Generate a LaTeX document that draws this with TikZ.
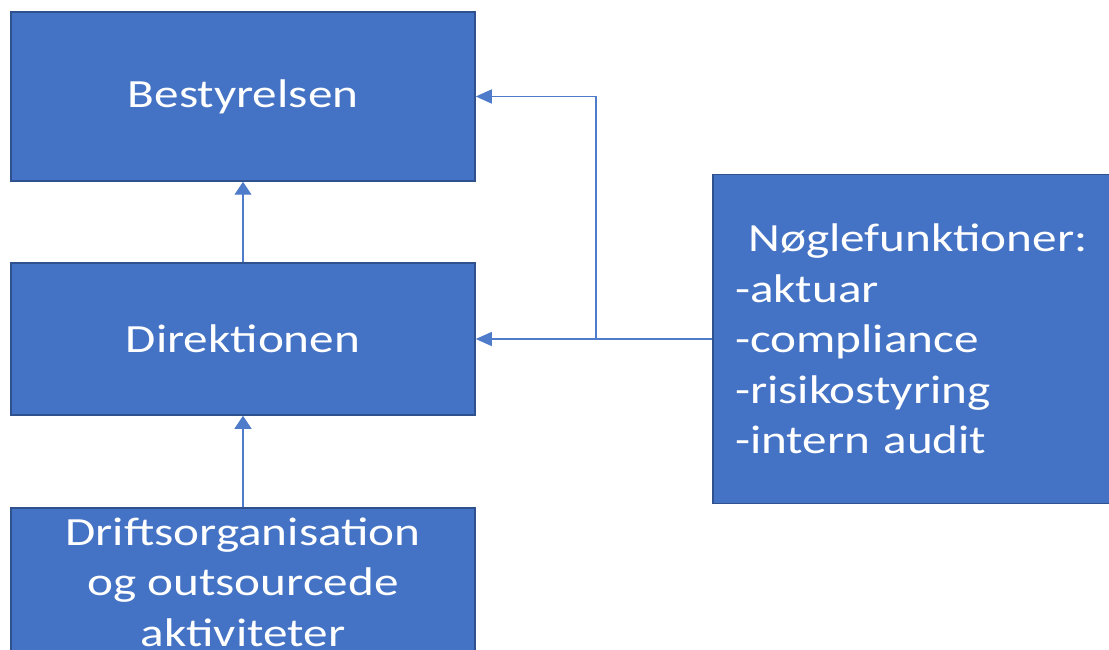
\documentclass[tikz,border=0pt]{standalone}
\usepackage{fontspec}
\setmainfont{Carlito}[FakeStretch=1.23]
\usetikzlibrary{arrows.meta}
\definecolor{boxfill}{HTML}{4472C4}
\definecolor{boxline}{HTML}{2F528F}
\definecolor{conncol}{HTML}{4F7BCB}
\begin{document}
\begin{tikzpicture}[x=1pt,y=-1pt,
  box/.style={draw=boxline, line width=1.5pt, fill=boxfill, text=white,
    font=\fontsize{40}{50.5}\selectfont, align=center, inner sep=0pt},
  vconn/.style={draw=conncol, line width=1.3pt, -{Triangle[length=13pt,width=17pt]}},
  hconn/.style={draw=conncol, line width=1.3pt, -{Triangle[length=16pt,width=14pt]}}]
\clip (0,0) rectangle (1109,650);
\node[box, minimum width=464pt, minimum height=169pt] (best) at (243,96.5) {Bestyrelsen};
\node[box, minimum width=464pt, minimum height=152pt] (dir) at (243,339) {Direktionen};
\node[box, minimum width=464pt, minimum height=148pt] (drift) at (243,582) {Driftsorganisation\\og outsourcede\\aktiviteter};
\node[box, minimum width=404pt, minimum height=329pt, align=left, text width=360pt] (k) at (915,339)
  {~Nøglefunktioner:\\-aktuar\\-compliance\\-risikostyring\\-intern audit};
\coordinate (bend) at (596,339);
\draw[vconn] (dir.north) -- (best.south);
\draw[vconn] (drift.north) -- (dir.south);
\draw[hconn] (k.west) -- (dir.east);
\draw[hconn] (k.west) -- (bend) |- (best.east);
\end{tikzpicture}
\end{document}
